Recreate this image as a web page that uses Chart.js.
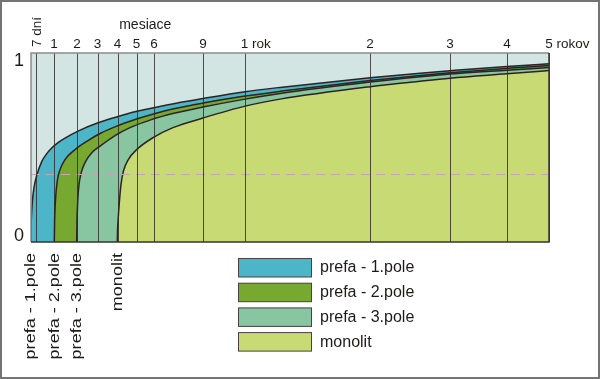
<!DOCTYPE html>
<html><head><meta charset="utf-8">
<script src="https://cdn.jsdelivr.net/npm/chart.js@4.4.1/dist/chart.umd.min.js"></script>
<style>html,body{margin:0;padding:0;background:#fff}canvas{display:block}</style>
</head><body>
<canvas id="c" width="600" height="379"></canvas>
<script>
// ---------- data ----------
const seriesNames = ['prefa - 1.pole', 'prefa - 2.pole', 'prefa - 3.pole', 'monolit'];

const pole1Months = [0, 0.0047, 0.033, 0.070, 0.140, 0.263, 0.476, 0.659, 0.902, 1.174, 1.478, 2.049, 3.025, 4.026, 4.921, 6.061, 7.286, 9, 12.048, 15.395, 24, 31.5, 36, 48, 60];
const pole1Values = [0, 0.070, 0.161, 0.224, 0.288, 0.351, 0.425, 0.462, 0.497, 0.526, 0.550, 0.587, 0.631, 0.664, 0.689, 0.712, 0.733, 0.759, 0.795, 0.818, 0.869, 0.893, 0.906, 0.929, 0.943];

const pole2Months = [1.013, 1.026, 1.065, 1.152, 1.261, 1.478, 1.913, 2.537, 3.125, 4.026, 4.921, 5.771, 7.286, 9, 12.048, 15.395, 24, 31.5, 36, 48, 60];
const pole2Values = [0, 0.108, 0.224, 0.330, 0.383, 0.436, 0.489, 0.537, 0.574, 0.616, 0.648, 0.672, 0.706, 0.735, 0.772, 0.797, 0.854, 0.881, 0.896, 0.919, 0.934];

const pole3Months = [1.987, 2.0, 2.039, 2.098, 2.195, 2.390, 2.732, 3.125, 3.875, 4.658, 5.771, 7.286, 9, 12.048, 15.395, 24, 31.5, 36, 48, 60];
const pole3Values = [0, 0.108, 0.224, 0.304, 0.362, 0.420, 0.473, 0.507, 0.563, 0.605, 0.645, 0.682, 0.714, 0.756, 0.786, 0.846, 0.874, 0.889, 0.909, 0.923];

const monolitMonths = [3.99, 4.0, 4.026, 4.068, 4.116, 4.184, 4.305, 4.568, 5.011, 5.943, 7.163, 9, 12.048, 15.395, 24, 31.5, 36, 48, 60];
const monolitValues = [0, 0.055, 0.108, 0.171, 0.235, 0.304, 0.372, 0.436, 0.489, 0.552, 0.605, 0.656, 0.719, 0.756, 0.822, 0.851, 0.867, 0.890, 0.907];

const topTickMonths = [7/30, 1, 2, 3, 4, 5, 6, 9, 12, 24, 36, 48, 60];
const topTickLabels = ['7 dní', '1', '2', '3', '4', '5', '6', '9', '1 rok', '2', '3', '4', '5 rokov'];
const yTickValues = [0, 1];
const yTickLabels = ['0', '1'];
const guideLevel = 0.36;
const axisTitle = 'mesiace';

// ---------- axis warp (layout of the time axis) ----------
const warpMonths = [0, 7/30, 1, 2, 3, 4, 5, 6, 9, 12, 24, 36, 48, 60];
const warpFrac   = [0, 0.00965, 0.0444, 0.0888, 0.1284, 0.1670, 0.2037, 0.2375, 0.3320, 0.4122, 0.6544, 0.8089, 0.9189, 1];

function interp(v, xs, ys) {
  if (v <= xs[0]) return ys[0] + (v - xs[0]) * (ys[1] - ys[0]) / (xs[1] - xs[0]);
  for (let i = 1; i < xs.length; i++) {
    if (v <= xs[i]) return ys[i-1] + (v - xs[i-1]) * (ys[i] - ys[i-1]) / (xs[i] - xs[i-1]);
  }
  const n = xs.length - 1;
  return ys[n] + (v - xs[n]) * (ys[n] - ys[n-1]) / (xs[n] - xs[n-1]);
}

class WarpScale extends Chart.LinearScale {
  getPixelForValue(value) { return this.getPixelForDecimal(interp(value, warpMonths, warpFrac)); }
  getValueForPixel(pixel) { return interp(this.getDecimalForPixel(pixel), warpFrac, warpMonths); }
}
WarpScale.id = 'warp';
WarpScale.defaults = Chart.LinearScale.defaults;
Chart.register(WarpScale);

// ---------- styles ----------
const fillColors = ['#4cb5c7', '#77a82f', '#87c6a0', '#c7da73'];
const plotBg = '#d3e5e3';
const inkColor = '#1e1a1a';
const fontFamily = '"Liberation Sans", Arial, Helvetica, sans-serif';

function toPoints(ms, vs) { return ms.map((m, i) => ({x: m, y: vs[i]})); }
const seriesMonths = [pole1Months, pole2Months, pole3Months, monolitMonths];
const seriesValues = [pole1Values, pole2Values, pole3Values, monolitValues];

const datasets = seriesNames.map((name, i) => ({
  label: name,
  data: toPoints(seriesMonths[i], seriesValues[i]),
  backgroundColor: fillColors[i],
  borderColor: '#2d2323',
  borderWidth: 1.5,
  fill: 'origin',
  pointRadius: 0,
  cubicInterpolationMode: 'monotone',
  order: seriesNames.length - 1 - i
}));

const decorPlugin = {
  id: 'decor',
  beforeDraw(chart) {
    const {ctx, chartArea: a} = chart;
    ctx.save();
    ctx.fillStyle = '#ffffff';
    ctx.fillRect(0, 0, chart.width, chart.height);
    ctx.fillStyle = plotBg;
    ctx.fillRect(a.left, a.top, a.right - a.left, a.bottom - a.top);
    ctx.restore();
  },
  afterDatasetsDraw(chart) {
    const {ctx, chartArea: a, scales: {x, y}} = chart;
    ctx.save();
    // dashed guide
    const gy = Math.round(y.getPixelForValue(guideLevel)) + 0.5;
    ctx.strokeStyle = '#c3a5b5';
    ctx.lineWidth = 1.2;
    ctx.setLineDash([9, 6]);
    ctx.beginPath(); ctx.moveTo(a.left, gy); ctx.lineTo(a.right, gy); ctx.stroke();
    ctx.setLineDash([]);
    // vertical lines
    ctx.strokeStyle = 'rgba(45,35,35,0.8)';
    ctx.lineWidth = 1;
    topTickMonths.forEach(m => {
      const px = Math.round(x.getPixelForValue(m)) + 0.5;
      ctx.beginPath(); ctx.moveTo(px, a.top); ctx.lineTo(px, a.bottom); ctx.stroke();
    });
    // plot frame
    ctx.strokeStyle = '#8c8c8c'; ctx.lineWidth = 1.5;
    ctx.beginPath(); ctx.moveTo(a.left, a.bottom); ctx.lineTo(a.left, a.top); ctx.lineTo(a.right, a.top); ctx.stroke();
    ctx.strokeStyle = '#3c3232';
    ctx.beginPath(); ctx.moveTo(a.right, a.top); ctx.lineTo(a.right, a.bottom); ctx.lineTo(a.left, a.bottom); ctx.stroke();

    ctx.fillStyle = inkColor;
    // top tick labels
    ctx.font = '13.5px ' + fontFamily;
    ctx.textBaseline = 'alphabetic';
    topTickMonths.forEach((m, i) => {
      const px = x.getPixelForValue(m);
      const lab = topTickLabels[i];
      const parts = lab.split(' ');
      if (parts.length > 1 && m < 1) {
        ctx.save();
        ctx.translate(px + 5, 47);
        ctx.rotate(-Math.PI / 2);
        ctx.textAlign = 'left';
        ctx.fillText(lab, 0, 0);
        ctx.restore();
      } else {
        const num = parts[0];
        const w = ctx.measureText(num).width;
        ctx.textAlign = 'left';
        ctx.fillText(num, px - w / 2, 48);
        if (parts.length > 1) {
          ctx.fillText(' ' + parts.slice(1).join(' '), px + w / 2, 48);
        }
      }
    });
    // axis title
    ctx.font = '14px ' + fontFamily;
    ctx.textAlign = 'center';
    ctx.fillText(axisTitle, x.getPixelForValue(5.5), 28.5);
    // y labels
    ctx.font = '18px ' + fontFamily;
    ctx.textAlign = 'center';
    ctx.textBaseline = 'middle';
    yTickValues.forEach((v, i) => {
      const py = y.getPixelForValue(v) + (v > 0.5 ? 8 : -6);
      ctx.fillText(yTickLabels[i], 19, py);
    });
    // rotated series labels under the axis
    ctx.font = '14px ' + fontFamily;
    seriesNames.forEach((name, i) => {
      const px = x.getPixelForValue(seriesMonths[i][0]) + (i === 0 ? 0 : 0.5);
      ctx.save();
      ctx.translate(px, a.bottom + 11);
      ctx.rotate(-Math.PI / 2);
      ctx.scale(1.29, 1);
      ctx.textAlign = 'right';
      ctx.textBaseline = 'middle';
      ctx.fillText(name, 0, 0);
      ctx.restore();
    });
    // legend
    ctx.font = '16px ' + fontFamily;
    ctx.textAlign = 'left';
    ctx.textBaseline = 'middle';
    seriesNames.forEach((name, i) => {
      const top = 258.5 + i * 24.7;
      ctx.fillStyle = fillColors[i];
      ctx.fillRect(238.5, top, 73, 18.5);
      ctx.strokeStyle = '#4a4040'; ctx.lineWidth = 1;
      ctx.strokeRect(238.5, top, 73, 18.5);
      ctx.fillStyle = inkColor;
      ctx.fillText(name, 320, top + 9.5);
    });
    // outer frame
    ctx.strokeStyle = '#747474'; ctx.lineWidth = 2;
    ctx.strokeRect(1, 1, chart.width - 2, chart.height - 2);
    ctx.restore();
  }
};

new Chart(document.getElementById('c'), {
  type: 'line',
  data: { datasets },
  options: {
    responsive: false,
    animation: false,
    devicePixelRatio: 1,
    layout: { padding: { left: 31, right: 51, top: 53, bottom: 137 } },
    plugins: { legend: { display: false }, tooltip: { enabled: false }, title: { display: false } },
    scales: {
      x: { type: 'warp', min: 0, max: 60, display: false },
      y: { type: 'linear', min: 0, max: 1, display: false }
    }
  },
  plugins: [decorPlugin]
});
</script>
</body></html>
